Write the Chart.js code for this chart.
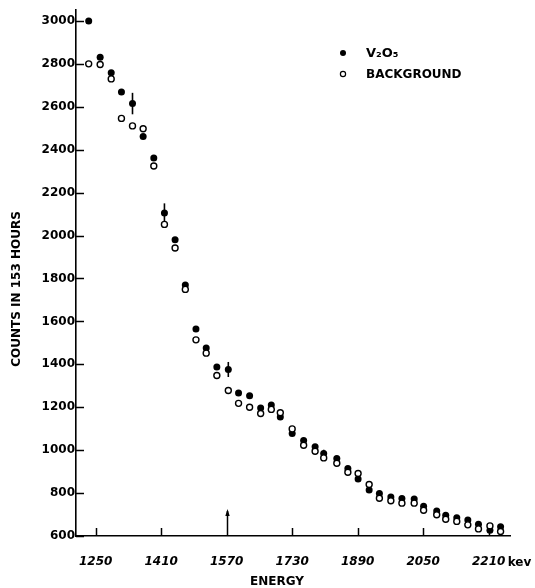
<!DOCTYPE html>
<html>
<head>
<meta charset="utf-8">
<script src="https://cdn.jsdelivr.net/npm/chart.js@4.4.1/dist/chart.umd.min.js"></script>
<style>
  html, body { margin: 0; padding: 0; background: #fff; }
  #wrap { width: 535px; height: 588px; position: relative; }
</style>
</head>
<body>
<div id="wrap"><canvas id="c"></canvas></div>
<script>
// ---- data ----
const energies = [1233,1261,1288,1313,1340,1366,1392,1418,1444,1469,1495,1520,1546,1574,1599,1626,1653,1679,1701,1730,1758,1786,1807,1839,1866,1891,1918,1943,1971,1998,2028,2051,2083,2105,2132,2159,2185,2213,2239];
const v2o5Counts = [3000,2831,2759,2669,2615,2461,2361,2105,1981,1770,1564,1476,1388,1376,1266,1253,1197,1211,1155,1078,1045,1016,984,961,914,866,814,798,782,775,772,739,717,697,685,674,655,627,643];
const backgroundCounts = [2800,2797,2730,2546,2511,2498,2324,2052,1942,1749,1514,1452,1348,1278,1218,1200,1171,1190,1174,1099,1023,995,964,939,897,891,840,776,764,753,753,720,699,678,668,652,633,647,621];
const v2o5Errors = [null,null,null,null,50,null,null,45,null,null,null,null,null,35,null,null,null,null,null,null,null,null,18,null,null,null,null,null,null,null,null,null,null,null,null,null,null,null,null];
const xTickValues = [1250,1410,1570,1730,1890,2050,2210];
const yTickValues = [600,800,1000,1200,1400,1600,1800,2000,2200,2400,2600,2800,3000];
const seriesNames = ['V\u2082O\u2085', 'BACKGROUND'];
const xUnit = 'kev';
const xTitle = 'ENERGY';
const yTitle = 'COUNTS IN 153 HOURS';
const markedTick = 1570;

const FONT = '"DejaVu Sans", sans-serif';

const annot = {
  id: 'annot',
  beforeDatasetsDraw(chart) {
    const { ctx, scales: { x, y } } = chart;
    ctx.save();
    ctx.strokeStyle = '#000';
    ctx.lineWidth = 1.6;
    energies.forEach((e, i) => {
      const err = v2o5Errors[i];
      if (err == null) return;
      const px = x.getPixelForValue(e);
      ctx.beginPath();
      ctx.moveTo(px, y.getPixelForValue(v2o5Counts[i] + err));
      ctx.lineTo(px, y.getPixelForValue(v2o5Counts[i] - err));
      ctx.stroke();
    });
    ctx.restore();
  },
  afterDraw(chart) {
    const { ctx, scales: { x, y }, chartArea: a } = chart;
    ctx.save();
    ctx.strokeStyle = '#000';
    ctx.fillStyle = '#000';
    ctx.lineWidth = 1.5;
    // inward y ticks
    yTickValues.forEach(v => {
      const py = Math.round(y.getPixelForValue(v)) + 0.5;
      ctx.beginPath(); ctx.moveTo(a.left, py); ctx.lineTo(a.left + 8, py); ctx.stroke();
    });
    // inward x ticks
    xTickValues.forEach(v => {
      const px = Math.round(x.getPixelForValue(v)) + 0.5;
      const len = v === markedTick ? 25 : 8;
      ctx.beginPath(); ctx.moveTo(px, a.bottom); ctx.lineTo(px, a.bottom - len); ctx.stroke();
      if (v === markedTick) {
        ctx.beginPath();
        ctx.moveTo(px, a.bottom - len - 2);
        ctx.lineTo(px - 2.2, a.bottom - len + 5);
        ctx.lineTo(px + 2.2, a.bottom - len + 5);
        ctx.closePath(); ctx.fill();
      }
    });
    // unit after last x label
    ctx.font = 'bold 12px ' + FONT;
    ctx.textBaseline = 'middle';
    ctx.textAlign = 'left';
    ctx.fillText(xUnit, x.getPixelForValue(xTickValues[xTickValues.length - 1]) + 19, 563);
    // axis titles
    ctx.textAlign = 'center';
    ctx.fillText(xTitle, 277, 582);
    ctx.save();
    ctx.translate(17, 289);
    ctx.rotate(-Math.PI / 2);
    ctx.fillText(yTitle, 0, 0);
    ctx.restore();
    // legend
    const lx = 343, ly = [53, 74];
    ctx.beginPath(); ctx.arc(lx, ly[0], 3, 0, Math.PI * 2); ctx.fill();
    ctx.beginPath(); ctx.arc(lx, ly[1], 2.6, 0, Math.PI * 2);
    ctx.fillStyle = '#fff'; ctx.fill(); ctx.lineWidth = 1.2; ctx.stroke();
    ctx.fillStyle = '#000';
    ctx.textAlign = 'left';
    ctx.font = 'bold 13px ' + FONT;
    ctx.fillText(seriesNames[0], 366, ly[0] + 1);
    ctx.font = 'bold 12px ' + FONT;
    ctx.fillText(seriesNames[1], 366, ly[1] + 1);
    ctx.restore();
  }
};

new Chart(document.getElementById('c'), {
  type: 'scatter',
  data: {
    datasets: [
      {
        label: seriesNames[1],
        data: energies.map((e, i) => ({ x: e, y: backgroundCounts[i] })),
        pointRadius: 3,
        pointBorderWidth: 1.4,
        pointBorderColor: '#000',
        pointBackgroundColor: '#fff',
        showLine: false
      },
      {
        label: seriesNames[0],
        data: energies.map((e, i) => ({ x: e, y: v2o5Counts[i] })),
        pointRadius: 3.5,
        pointBorderWidth: 0,
        pointBackgroundColor: '#000',
        showLine: false
      }
    ]
  },
  options: {
    responsive: true,
    maintainAspectRatio: false,
    animation: false,
    layout: { padding: { top: 10, right: 25, left: 0, bottom: 0 } },
    plugins: { legend: { display: false }, tooltip: { enabled: false } },
    scales: {
      x: {
        type: 'linear',
        min: 1202, max: 2262,
        afterBuildTicks: s => { s.ticks = xTickValues.map(v => ({ value: v })); },
        afterFit: s => { s.height = 52; },
        grid: { display: false, drawTicks: false },
        border: { display: true, color: '#000', width: 1.6 },
        ticks: {
          color: '#000', padding: 19, maxRotation: 0, autoSkip: false,
          callback: v => String(v),
          font: { family: FONT, size: 12, weight: 'bold', style: 'italic' }
        }
      },
      y: {
        type: 'linear',
        min: 600, max: 3051,
        afterBuildTicks: s => { s.ticks = yTickValues.map(v => ({ value: v })); },
        afterFit: s => { s.width = 76; },
        grid: { display: false, drawTicks: false },
        border: { display: true, color: '#000', width: 1.6 },
        ticks: {
          color: '#000', padding: 1, autoSkip: false,
          callback: v => String(v),
          font: { family: FONT, size: 12, weight: 'bold' }
        }
      }
    }
  },
  plugins: [annot]
});
</script>
</body>
</html>
